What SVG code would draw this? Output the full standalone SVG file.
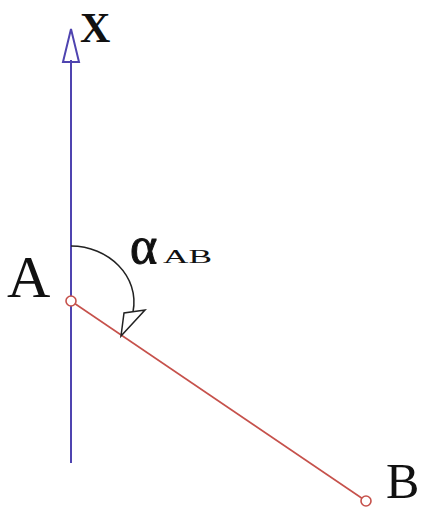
<svg xmlns="http://www.w3.org/2000/svg" width="425" height="510" viewBox="0 0 425 510">
<style>
.lbl{font-family:"Liberation Serif","Times New Roman",serif;fill:#111;}
.axis{stroke:#4f44b0;stroke-width:2;fill:none;}
.seg{stroke:#c6514b;stroke-width:1.6;fill:none;}
.pt{stroke:#c6514b;stroke-width:1.6;fill:#fff;}
</style>
<rect width="425" height="510" fill="#fff"/>
<g id="connectors">
<line class="axis" x1="71" y1="463" x2="71" y2="60"/>
<polygon class="axis" points="71,29 63,62 79,62" fill="#fff"/>
<line class="seg" x1="71" y1="301" x2="366" y2="501"/>
<path d="M71,246 C108,246 140,276 133,312" fill="none" stroke="#222" stroke-width="1.5"/>
<polygon points="121,336 124,313 145,310" fill="#fff" stroke="#222" stroke-width="1.5"/>
</g>
<g id="node-x"><text class="lbl" x="80" y="42" font-size="42" font-weight="bold">X</text></g>
<g id="node-A">
<circle class="pt" cx="71" cy="301" r="5"/>
<text class="lbl" x="7" y="297" font-size="60">A</text>
</g>
<g id="node-alpha">
<text class="lbl" x="130" y="263" font-size="52" stroke="#111" stroke-width="1">α</text>
<text class="lbl" x="163" y="263" font-size="19" textLength="49" lengthAdjust="spacingAndGlyphs">AB</text>
</g>
<g id="node-B">
<circle class="pt" cx="366" cy="501" r="5"/>
<text class="lbl" x="386" y="498" font-size="50">B</text>
</g>
</svg>
